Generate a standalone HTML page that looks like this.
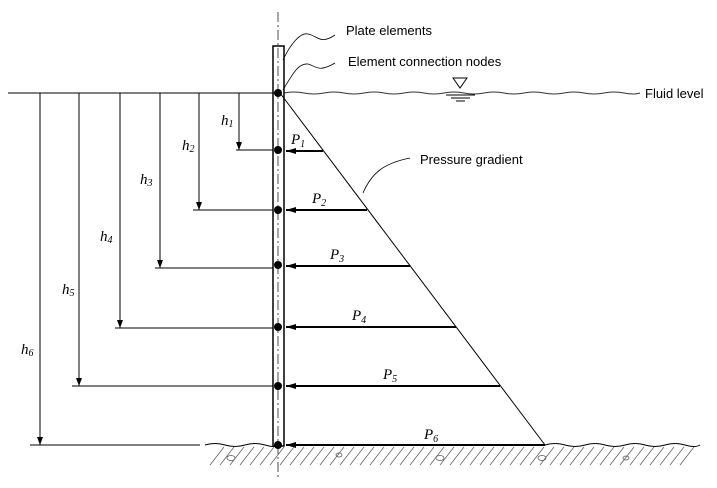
<!DOCTYPE html>
<html><head><meta charset="utf-8"><style>body{margin:0;background:#fff}svg{display:block}</style></head><body>
<svg width="717" height="488" viewBox="0 0 717 488" xmlns="http://www.w3.org/2000/svg" font-family="Liberation Sans, sans-serif">
<defs><marker id="a" markerWidth="8" markerHeight="6" refX="8" refY="3" orient="auto" markerUnits="userSpaceOnUse"><path d="M0,0 L8,3 L0,6z" fill="#000"/></marker>
<marker id="b" markerWidth="10" markerHeight="6" refX="10" refY="3" orient="auto" markerUnits="userSpaceOnUse"><path d="M0,0 L10,3 L0,6z" fill="#000"/></marker></defs>
<g stroke="#000" fill="none" stroke-width="1">
<line x1="8" y1="93" x2="278" y2="93"/>
<path d="M284,93 q10,-2 20,0 t20,0 t20,0 t20,0 t20,0 t20,0 t20,0 t20,0 t20,0 t20,0 t20,0 t20,0 t20,0 t20,0 t20,0 t20,0 t20,0 t16,0" stroke="#333"/>
<path d="M453,78 L467,78 L460,88 Z"/>
<line x1="446" y1="95" x2="475" y2="95"/><line x1="451" y1="98" x2="470" y2="98"/><line x1="456" y1="101" x2="465" y2="101"/>
<rect x="273" y="46" width="11" height="400" stroke-width="1.5"/>
<line x1="278" y1="12" x2="278" y2="480" stroke-dasharray="10,3,2,3" stroke-width="0.7"/>
<line x1="280" y1="93" x2="545" y2="445"/>
<line x1="239" y1="93" x2="239" y2="150" marker-end="url(#a)"/><line x1="236" y1="150" x2="273" y2="150"/>
<line x1="199" y1="93" x2="199" y2="210" marker-end="url(#a)"/><line x1="193" y1="210" x2="273" y2="210"/>
<line x1="160" y1="93" x2="160" y2="268" marker-end="url(#a)"/><line x1="155" y1="268" x2="273" y2="268"/>
<line x1="120" y1="93" x2="120" y2="328" marker-end="url(#a)"/><line x1="115" y1="328" x2="273" y2="328"/>
<line x1="79" y1="93" x2="79" y2="386" marker-end="url(#a)"/><line x1="72" y1="386" x2="273" y2="386"/>
<line x1="40" y1="93" x2="40" y2="445" marker-end="url(#a)"/><line x1="30" y1="445" x2="200" y2="445"/>
<g stroke-width="2">
<line x1="323" y1="151" x2="286" y2="151" marker-end="url(#b)"/>
<line x1="367" y1="210" x2="286" y2="210" marker-end="url(#b)"/>
<line x1="410" y1="266" x2="286" y2="266" marker-end="url(#b)"/>
<line x1="456" y1="327" x2="286" y2="327" marker-end="url(#b)"/>
<line x1="500" y1="386" x2="286" y2="386" marker-end="url(#b)"/>
<line x1="545" y1="445" x2="286" y2="445" marker-end="url(#b)"/>
</g>
<path d="M205,445 q10,-3 20,0 t20,0 t20,0 t13,0 M545,445 q10,-3 20,0 t20,0 t20,0 t20,0 t20,0 t20,0 t20,0 t15,0"/>
<g stroke-width="0.7" stroke="#555">
<path d="M210,465 l14,-18 M220,465 l14,-18 M230,465 l14,-18 M240,465 l14,-18 M250,465 l14,-18 M260,465 l14,-18 M270,465 l14,-18 M280,465 l14,-18 M290,465 l14,-18 M300,465 l14,-18 M310,465 l14,-18 M320,465 l14,-18 M330,465 l14,-18 M340,465 l14,-18 M350,465 l14,-18 M360,465 l14,-18 M370,465 l14,-18 M380,465 l14,-18 M390,465 l14,-18 M400,465 l14,-18 M410,465 l14,-18 M420,465 l14,-18 M430,465 l14,-18 M440,465 l14,-18 M450,465 l14,-18 M460,465 l14,-18 M470,465 l14,-18 M480,465 l14,-18 M490,465 l14,-18 M500,465 l14,-18 M510,465 l14,-18 M520,465 l14,-18 M530,465 l14,-18 M540,465 l14,-18 M550,465 l14,-18 M560,465 l14,-18 M570,465 l14,-18 M580,465 l14,-18 M590,465 l14,-18 M600,465 l14,-18 M610,465 l14,-18 M620,465 l14,-18 M630,465 l14,-18 M640,465 l14,-18 M650,465 l14,-18 M660,465 l14,-18 M670,465 l14,-18 M680,465 l14,-18"/>
<ellipse cx="231" cy="458" rx="4" ry="2.5"/><ellipse cx="339" cy="455" rx="3" ry="2"/><ellipse cx="440" cy="458" rx="4" ry="2.5"/><ellipse cx="542" cy="458" rx="4" ry="2.5"/><ellipse cx="626" cy="458" rx="3" ry="2"/>
</g>
<path d="M283,60 C290,45 300,32 308,34 C318,36 320,45 335,35" stroke-width="0.8"/>
<path d="M283,90 C292,75 298,63 308,64 C316,66 318,73 335,63" stroke-width="0.8"/>
<path d="M363,193 C372,172 385,163 410,158" stroke-width="0.8"/>
</g>
<g fill="#000"><circle cx="278" cy="93" r="4"/><circle cx="278" cy="150" r="4"/><circle cx="278" cy="210" r="4"/><circle cx="278" cy="265" r="4"/><circle cx="278" cy="327" r="4"/><circle cx="278" cy="386" r="4"/><circle cx="278" cy="445" r="4"/></g>
<g font-size="13"><text x="346" y="35">Plate elements</text><text x="348" y="66">Element connection nodes</text><text x="645" y="98">Fluid level</text><text x="420" y="164">Pressure gradient</text></g>
<g font-family="Liberation Serif, serif" font-style="italic" font-size="15">
<text x="221" y="125">h<tspan font-size="10" dy="2">1</tspan></text>
<text x="182" y="150">h<tspan font-size="10" dy="2">2</tspan></text>
<text x="140" y="184">h<tspan font-size="10" dy="2">3</tspan></text>
<text x="100" y="241">h<tspan font-size="10" dy="2">4</tspan></text>
<text x="62" y="294">h<tspan font-size="10" dy="2">5</tspan></text>
<text x="21" y="354">h<tspan font-size="10" dy="2">6</tspan></text>
<text x="291" y="144">P<tspan font-size="10" dy="3">1</tspan></text>
<text x="312" y="203">P<tspan font-size="10" dy="3">2</tspan></text>
<text x="330" y="259">P<tspan font-size="10" dy="3">3</tspan></text>
<text x="352" y="320">P<tspan font-size="10" dy="3">4</tspan></text>
<text x="383" y="379">P<tspan font-size="10" dy="3">5</tspan></text>
<text x="424" y="439">P<tspan font-size="10" dy="3">6</tspan></text>
</g>
</svg>
</body></html>
